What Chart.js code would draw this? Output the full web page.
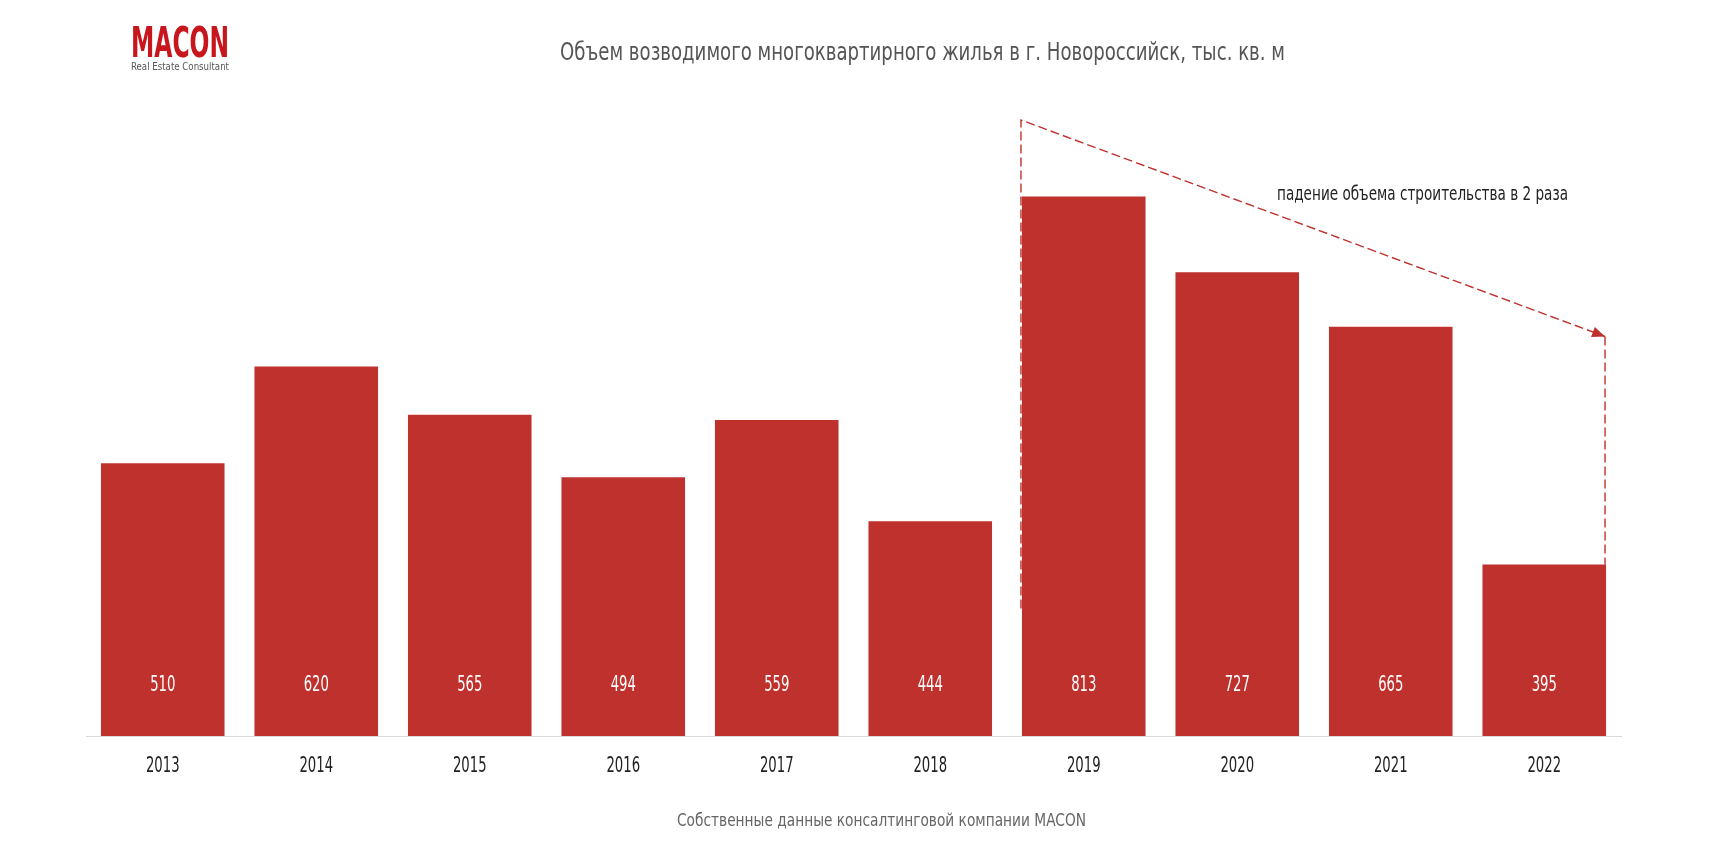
<!DOCTYPE html>
<html>
<head>
<meta charset="utf-8">
<script src="https://cdn.jsdelivr.net/npm/chart.js@4"></script>
<style>
  html, body { margin: 0; padding: 0; background: #fff; }
  body { width: 1732px; height: 858px; position: relative; overflow: hidden;
         font-family: 'DejaVu Sans Condensed', sans-serif; }
  #wrap { position: absolute; left: 0; top: 0; width: 1732px; height: 858px; }
  .fit { position: absolute; white-space: nowrap; transform-origin: left top; }
  .logo { left: 131px; top: 22px; color: #c8161d; font-weight: bold; font-size: 42px; line-height: 42px; }
  .logo-sub { left: 131px; top: 61px; color: #555; font-size: 11px; line-height: 12px; }
  .title { left: 560px; top: 38px; color: #555; font-size: 24px; line-height: 28px; }
  .source { left: 677px; top: 810px; color: #666; font-size: 18px; line-height: 20px; }
</style>
</head>
<body>
<div id="wrap"><canvas id="chart" width="1732" height="858"></canvas></div>
<div class="fit logo" data-w="98">MACON</div>
<div class="fit logo-sub" data-w="98">Real Estate Consultant</div>
<div class="fit title" data-w="725">Объем возводимого многоквартирного жилья в г. Новороссийск, тыс. кв. м</div>
<div class="fit source" data-w="409">Собственные данные консалтинговой компании MACON</div>
<script>
// данные
const years = ['2013', '2014', '2015', '2016', '2017', '2018', '2019', '2020', '2021', '2022'];
const volume = [510, 620, 565, 494, 559, 444, 813, 727, 665, 395];
const noteText = 'падение объема строительства в 2 раза';

const red = '#bf312c';
const font = "'DejaVu Sans Condensed', sans-serif";
const squeeze = 0.7;

// узкий шрифт: сжимаем текст по горизонтали
document.querySelectorAll('.fit').forEach(el => {
    const w = el.getBoundingClientRect().width;
    el.style.transform = 'scaleX(' + (+el.dataset.w / w) + ')';
});

function narrowText(ctx, text, x, y, sx) {
    ctx.save();
    ctx.translate(x, y);
    ctx.scale(sx, 1);
    ctx.fillText(text, 0, 0);
    ctx.restore();
}

const extras = {
    id: 'extras',
    afterDatasetsDraw(chart) {
        const ctx = chart.ctx;
        const x = chart.scales.x;
        const y = chart.scales.y;
        const bars = chart.getDatasetMeta(0).data;

        ctx.save();
        ctx.textAlign = 'center';
        ctx.textBaseline = 'middle';

        // подписи годов под осью
        ctx.fillStyle = '#222';
        ctx.font = '21px ' + font;
        x.ticks.forEach((t, i) => {
            narrowText(ctx, x.getLabelForValue(t.value), x.getPixelForTick(i), y.bottom + 31, squeeze);
        });

        // значения внутри столбцов
        ctx.fillStyle = '#fff';
        ctx.font = '21px ' + font;
        bars.forEach((b, i) => {
            narrowText(ctx, String(volume[i]), b.x, y.bottom - 50, squeeze);
        });

        // стрелка от 2019 к 2022
        const b1 = bars[6], b2 = bars[9];
        const x1 = b1.x - b1.width / 2 - 1;
        const y1 = y.getPixelForValue(900);
        const x2 = b2.x + b2.width / 2 - 1;
        const y2 = y.getPixelForValue(654);
        ctx.strokeStyle = red;
        ctx.lineWidth = 1.4;
        ctx.setLineDash([9, 4]);
        ctx.beginPath();
        ctx.moveTo(x1, y.getPixelForValue(345));
        ctx.lineTo(x1, y1);
        ctx.lineTo(x2, y2);
        ctx.stroke();
        ctx.beginPath();
        ctx.moveTo(x2, y2);
        ctx.lineTo(x2, y.getPixelForValue(volume[9]));
        ctx.stroke();
        ctx.setLineDash([]);
        const ang = Math.atan2(y2 - y1, x2 - x1);
        ctx.fillStyle = red;
        ctx.beginPath();
        ctx.moveTo(x2, y2);
        ctx.lineTo(x2 - 14 * Math.cos(ang - 0.4), y2 - 14 * Math.sin(ang - 0.4));
        ctx.lineTo(x2 - 14 * Math.cos(ang + 0.4), y2 - 14 * Math.sin(ang + 0.4));
        ctx.closePath();
        ctx.fill();

        // текст аннотации
        ctx.fillStyle = '#222';
        ctx.font = '20px ' + font;
        ctx.textAlign = 'left';
        const sx = 291 / ctx.measureText(noteText).width;
        narrowText(ctx, noteText, 1277, y.getPixelForValue(815), sx);
        ctx.restore();
    }
};

new Chart(document.getElementById('chart'), {
    type: 'bar',
    data: {
        labels: years,
        datasets: [{
            data: volume,
            backgroundColor: red,
            categoryPercentage: 1,
            barPercentage: 0.805
        }]
    },
    options: {
        responsive: false,
        animation: false,
        layout: { padding: { left: 86, right: 111, top: 120, bottom: 122 } },
        plugins: { legend: { display: false }, tooltip: { enabled: false } },
        scales: {
            x: {
                grid: { display: false, drawTicks: false },
                border: { display: true, color: '#d9d9d9', width: 1 },
                ticks: { display: false }
            },
            y: { display: false, min: 200, max: 900 }
        }
    },
    plugins: [extras]
});
</script>
</body>
</html>
